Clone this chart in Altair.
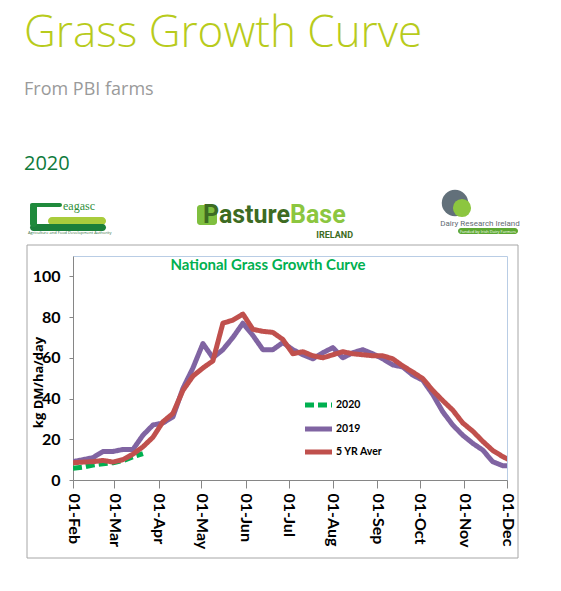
import altair as alt
import pandas as pd

# ---- data ----
start = pd.Timestamp("2020-02-01")
n_weeks = 45
week_dates = [(start + pd.Timedelta(days=7 * i)).strftime("%Y-%m-%dT00:00:00") for i in range(n_weeks)]

avg5 = [8.5, 8.8, 9.0, 9.6, 8.8, 10.0, 12.7, 16.3, 21.0, 28.6, 32.7, 44.0, 51.0, 55.0, 58.5,
        77.0, 78.5, 81.5, 74.0, 73.0, 72.5, 69.0, 62.0, 63.0, 61.0, 60.0, 61.5, 63.0, 62.0, 61.5,
        61.0, 61.0, 59.5, 56.0, 53.0, 49.8, 44.0, 39.0, 34.3, 28.0, 24.0, 19.0, 14.5, 11.5, 9.0]
y2019 = [9, 10, 11, 14, 14, 15, 15, 22, 27, 28, 31, 45, 55, 67, 60,
         64, 70, 77, 71, 64, 64, 67.5, 64, 61.5, 59.5, 62.5, 65, 60, 62.5, 64,
         62, 59.5, 56.5, 55.5, 51.5, 49, 42, 33.5, 27, 22, 18, 14.7, 9, 7, 7]
y2020 = [5.7, 6.3, 7.3, 8.0, 8.5, 9.5, 11.4, 13.0]

series_names = ["2020", "2019", "5 YR Aver"]
series_colors = ["#00b050", "#8064a2", "#c0504d"]
series_dash = [[9, 4], [1, 0], [1, 0]]

month_ticks = [alt.DateTime(year=2020, month=m, date=1) for m in range(2, 13)]
y_ticks = [0, 20, 40, 60, 80, 100]

rows = []
for d, v in zip(week_dates, y2020):
    rows.append({"date": d, "value": v, "series": "2020"})
for d, v in zip(week_dates, y2019):
    rows.append({"date": d, "value": v, "series": "2019"})
for d, v in zip(week_dates, avg5):
    rows.append({"date": d, "value": v, "series": "5 YR Aver"})
df = pd.DataFrame(rows)

W, H = 434, 224
LBL = "Lato, Open Sans, sans-serif"

x_enc = alt.X(
    "date:T",
    scale=alt.Scale(domain=[alt.DateTime(year=2020, month=2, date=1),
                            alt.DateTime(year=2020, month=12, date=1)]),
    axis=alt.Axis(values=month_ticks, format="%d-%b", labelAngle=90, title=None,
                  grid=False, tickSize=8, labelPadding=5, labelFontSize=16,
                  labelFontWeight="bold", labelFont=LBL, labelColor="#000",
                  domainColor="#868686", tickColor="#868686", labelOverlap=False),
)
y_enc = alt.Y(
    "value:Q",
    scale=alt.Scale(domain=[0, 110], nice=False),
    axis=alt.Axis(values=y_ticks, title="kg DM/ha/day", grid=False, tickSize=4,
                  labelPadding=9, labelFontSize=16, labelFontWeight="bold",
                  labelFont=LBL, labelColor="#000", domainColor="#868686",
                  tickColor="#868686", titleFontSize=13, titleFontWeight="bold",
                  titleFont="Open Sans, sans-serif", titleColor="#000",
                  titleX=-35, titleY=126, titleAngle=270, titleAlign="center",
                  titleBaseline="middle"),
)
color_enc = alt.Color("series:N", scale=alt.Scale(domain=series_names, range=series_colors),
                      legend=None)
dash_enc = alt.StrokeDash("series:N", scale=alt.Scale(domain=series_names, range=series_dash),
                          legend=None)

def series_layer(name):
    return alt.Chart(df).transform_filter(alt.datum.series == name).mark_line(
        strokeWidth=5, strokeCap="butt", strokeJoin="round", clip=True
    ).encode(x=x_enc, y=y_enc, color=color_enc, strokeDash=dash_enc)

lines = [series_layer(s) for s in series_names]

def txt(s, x, y, size, color, weight="normal", font="Open Sans, sans-serif", align="left",
        baseline="alphabetic"):
    return alt.Chart(pd.DataFrame({"t": [s]})).mark_text(
        text=s, fontSize=size, color=color, fontWeight=weight, font=font,
        align=align, baseline=baseline
    ).encode(x=alt.value(x), y=alt.value(y))

def rect(x, x2, y, y2, color, radius=0):
    return alt.Chart(pd.DataFrame({"a": [0]})).mark_rect(
        color=color, cornerRadius=radius
    ).encode(x=alt.value(x), x2=alt.value(x2), y=alt.value(y), y2=alt.value(y2))

# legend (inside plot, as in the reference)
legend_rows = [149, 173, 196]
legend_layers = []
for name, col, dash, ry in zip(series_names, series_colors, series_dash, legend_rows):
    legend_layers.append(
        alt.Chart(pd.DataFrame({"s": [name]})).mark_rule(
            color=col, strokeWidth=5, strokeDash=dash, strokeCap="butt"
        ).encode(x=alt.value(232), x2=alt.value(259), y=alt.value(ry))
    )
    legend_layers.append(txt(name, 263, ry, 10.5, "#000", weight="bold", font=LBL,
                             baseline="middle"))

# outer chart box
box = alt.Chart(pd.DataFrame({"a": [0]})).mark_rect(
    fillOpacity=0, stroke="#a6a6a6", strokeWidth=1
).encode(x=alt.value(-46), x2=alt.value(445), y=alt.value(-11), y2=alt.value(302))

logo_shapes = [
    # teagasc stylised mark
    rect(-25, 33, -39, -31, "#a9cc3c", 5),
    rect(-43, 33, -32, -25, "#1b7f3a", 4),
    rect(-43, -11, -53, -49, "#1f8a3c", 2),
    rect(-43, -36, -52, -29, "#1f8a3c", 3),
    # PastureBase leaf icon
    rect(124, 144, -51, -31, "#7fbf3f", 3),
    # Dairy Research Ireland "funded" pill
    rect(385, 445, -28, -22, "#5da832", 3),
]

texts = [
    txt("Grass Growth Curve", -49, -209, 44, "#b8cb1c", weight=300),
    txt("From PBI farms", -49, -161, 18, "#9a9a9a"),
    txt("2020", -49, -86, 20, "#0e7a3c"),
    txt("National Grass Growth Curve", 195, 14, 15, "#00b050", weight="bold",
        font="Lato, sans-serif", align="center"),
    # logo stand-ins
    txt("eagasc", -10, -46, 12, "#2f8f3a", font="Liberation Serif, serif"),
    txt("Agriculture and Food Development Authority", -45, -22, 4, "#2f6f3a"),
    txt("Pasture", 217, -33, 25, "#3d6b22", weight="bold", font="Roboto, sans-serif",
        align="right"),
    txt("Base", 217, -33, 25, "#8cc63f", weight="bold", font="Roboto, sans-serif"),
    txt("IRELAND", 280, -18, 9, "#3d6b22", weight="bold", font="Roboto, sans-serif",
        align="right"),
    txt("Dairy Research Ireland", 407, -30, 8, "#5f6b73", font="Roboto, sans-serif",
        align="center"),
    txt("Funded by Irish Dairy Farmers", 415, -23.5, 4, "#ffffff", align="center"),
]
dri_circle = alt.Chart(pd.DataFrame({"a": [0]})).mark_point(
    shape="circle", filled=True, size=700, color="#62707a", opacity=1
).encode(x=alt.value(382), y=alt.value(-53))
dri_circle2 = alt.Chart(pd.DataFrame({"a": [0]})).mark_point(
    shape="circle", filled=True, size=330, color="#8cc63f", opacity=1
).encode(x=alt.value(389), y=alt.value(-48))

chart = alt.layer(box, *logo_shapes, *lines, *legend_layers, *texts,
                  dri_circle, dri_circle2).properties(
    width=W, height=H,
    autosize=alt.AutoSizeParams(type="none"),
    padding={"left": 65, "top": 248, "right": 46, "bottom": 103},
    background="white",
).configure_view(stroke="#b9cde5", strokeWidth=1)

chart.save("out.html", embed_options={"renderer": "svg", "actions": False})
